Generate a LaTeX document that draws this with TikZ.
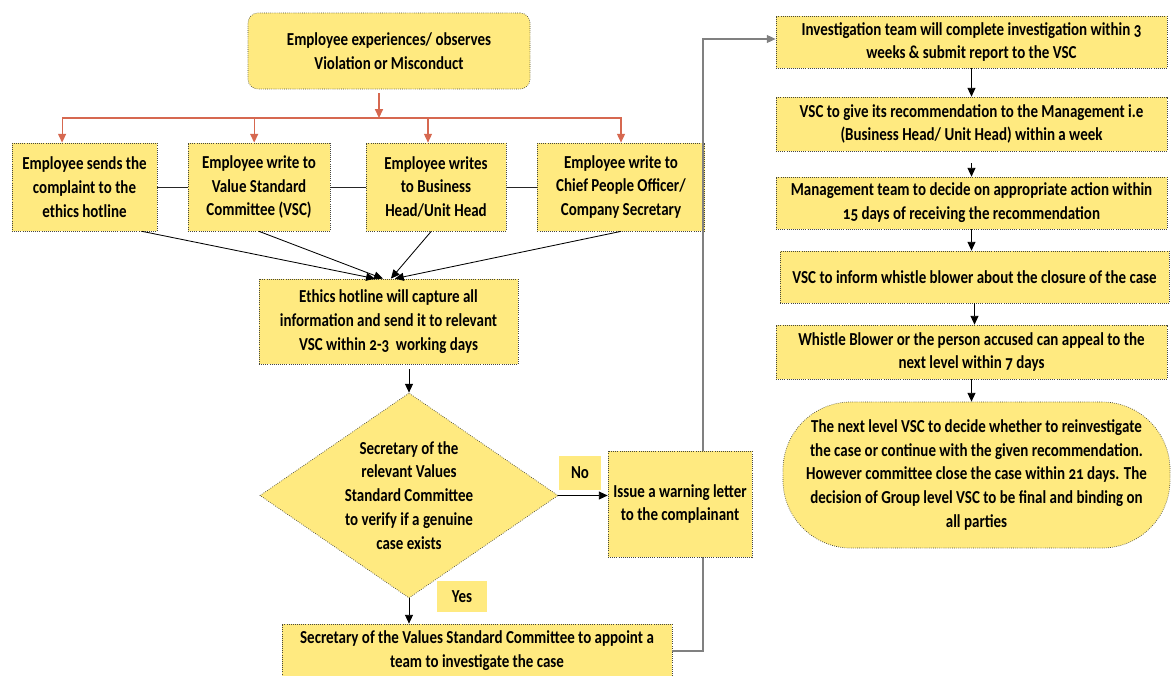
\documentclass[tikz,border=0pt]{standalone}
\usepackage{fontspec}
\setmainfont{Carlito}[FakeStretch=0.82,Numbers=OldStyle]
\usetikzlibrary{shapes.geometric,arrows.meta}
\definecolor{boxBg}{RGB}{255,234,128}
\definecolor{boxBorder}{RGB}{70,70,60}
\definecolor{splitRed}{RGB}{214,104,80}
\colorlet{linkGray}{black!50}

\tikzset{
  stepbox/.style={draw=boxBorder, densely dotted, line width=0.5pt, fill=boxBg,
    align=center, inner sep=1pt, font=\bfseries\fontsize{13}{17}\selectfont},
  boxsize/.style 2 args={minimum width=#1cm, minimum height=#2cm},
  tag/.style={fill=boxBg, inner sep=0pt, font=\bfseries\fontsize{13}{17}\selectfont},
  arr/.style={-{Triangle[length=2.2mm,width=2mm]}, black, line width=0.6pt},
  redarr/.style={-{Triangle[length=2.2mm,width=2mm]}, splitRed, line width=0.8pt},
  link/.style={black!85, line width=0.7pt},
  backlink/.style={-{Triangle[length=2.2mm,width=2mm]}, linkGray, line width=0.8pt}
}

\begin{document}
\begin{tikzpicture}[x=0.025cm, y=-0.025cm]
   \useasboundingbox (0,0) rectangle (1171,676);

   \node[stepbox, rounded corners=0.25cm, boxsize={7.05}{1.9}] (report) at (389,51) {Employee experiences/ observes\\Violation or Misconduct};

   \node[stepbox, boxsize={3.625}{2.2}] (hotline) at (84.5,187) {Employee sends the\\complaint to the\\ethics hotline};
   \node[stepbox, boxsize={3.55}{2.2}] (vsc) at (259,187) {Employee write to\\Value Standard\\Committee (VSC)};
   \node[stepbox, boxsize={3.5}{2.2}] (head) at (436,187) {Employee writes\\to Business\\Head/Unit Head};
   \node[stepbox, boxsize={4.175}{2.2}] (cpo) at (621,187) {Employee write to\\Chief People Officer/\\Company Secretary};

   \node[stepbox, boxsize={6.475}{2.125}] (ethics) at (388.5,321.5) {Ethics hotline will capture all\\information and send it to relevant\\VSC within 2-3\ \ working days};

   \node[stepbox, diamond, aspect=1.45, inner sep=0pt, boxsize={7.45}{5.125}] (verify) at (409,495.5) {Secretary of the\\relevant Values\\Standard Committee\\to verify if a genuine\\case exists};

   \node[tag, boxsize={1.05}{0.85}] (no) at (580,473) {No};
   \node[tag, boxsize={1.25}{0.775}] (yes) at (462,596.5) {Yes};

   \node[stepbox, boxsize={9.75}{1.35}] (appoint) at (477,651) {Secretary of the Values Standard Committee to appoint a\\team to investigate the case};

   \node[stepbox, boxsize={9.775}{1.3}] (probe) at (971.5,42) {Investigation team will complete investigation within 3\\weeks \& submit report to the VSC};
   \node[stepbox, boxsize={9.775}{1.35}] (advise) at (971.5,124) {VSC to give its recommendation to the Management i.e\\(Business Head/ Unit Head) within a week};
   \node[stepbox, boxsize={9.775}{1.3}] (decide) at (971.5,203) {Management team to decide on appropriate action within\\15 days of receiving the recommendation};
   \node[stepbox, boxsize={9.725}{1.3}] (inform) at (974.5,277) {VSC to inform whistle blower about the closure of the case};
   \node[stepbox, boxsize={9.775}{1.35}] (appeal) at (971.5,352) {Whistle Blower or the person accused can appeal to the\\next level within 7 days};
   \node[stepbox, rounded corners=1.7cm, boxsize={9.675}{3.65}] (final) at (976.5,475) {The next level VSC to decide whether to reinvestigate\\the case or continue with the given recommendation.\\However committee close the case within 21 days. The\\decision of Group level VSC to be final and binding on\\all parties};

   \coordinate (split) at (379,118);
   \coordinate (up) at (703,39);

   \draw[redarr, shorten <=1mm] (report.south -| split) -- (split);
   \foreach \b/\dx in {hotline/-0.56, vsc/-0.12, head/-0.2, cpo/0}
      \draw[redarr] (split) -| ([xshift=\dx cm]\b.north);

   \draw[link] (hotline) -- (vsc);
   \draw[link] (vsc) -- (head);
   \draw[link] (head) -- (cpo);

   \foreach \b/\sx/\ex in {hotline/1.44/-0.34, vsc/0/-0.14, head/-0.12/0.06, cpo/0/0.16}
      \draw[arr] ([xshift=\sx cm]\b.south) -- ([xshift=\ex cm]ethics.north);

   \draw[arr, shorten <=1.2mm] (ethics.south -| verify.north) -- (verify.north);
   \draw[arr] (verify.south) -- (verify.south |- appoint.north);

   \draw[backlink] (appoint.east) -| (up) -- (up -| probe.west);

   \node[stepbox, boxsize={3.6}{2.65}] (warn) at (680,504) {Issue a warning letter\\to the complainant};
   \draw[arr] (verify.east) -- (verify.east -| warn.west);

   \draw[arr] (probe) -- (advise);
   \draw[arr, shorten <=3mm] (advise) -- (decide);
   \draw[arr] (decide.south) -- (decide.south |- inform.north);
   \draw[arr] (inform.south) -- (inform.south |- appeal.north);
   \draw[arr] (appeal.south) -- (appeal.south |- final.north);

\end{tikzpicture}
\end{document}
